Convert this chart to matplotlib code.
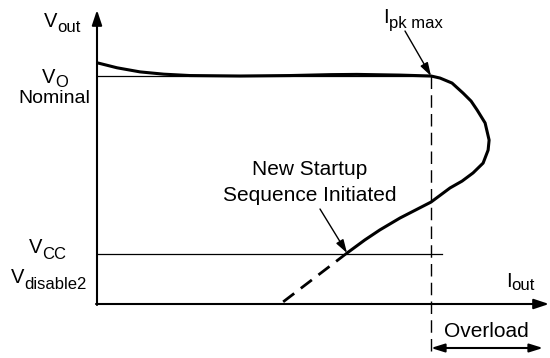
import matplotlib
matplotlib.use("Agg")
import matplotlib.pyplot as plt
import numpy as np

plt.rcParams['font.family'] = ['Liberation Sans', 'DejaVu Sans']

# Normalized units: Iout = 1 at Ipk max, Vout = 1 at VO nominal
curve_i = [0.003, 0.06, 0.129, 0.20, 0.278, 0.428, 0.578, 0.70, 0.778, 0.907, 1.0,
           1.027, 1.063, 1.096, 1.120, 1.138, 1.162, 1.174, 1.171, 1.156, 1.126,
           1.093, 1.057, 1.0, 0.907, 0.847, 0.802, 0.749]
curve_v = [1.057, 1.036, 1.018, 1.008, 1.002, 1.000, 1.002, 1.006, 1.007, 1.004, 1.0,
           0.991, 0.969, 0.925, 0.890, 0.851, 0.794, 0.719, 0.675, 0.618, 0.575,
           0.539, 0.509, 0.447, 0.377, 0.325, 0.281, 0.224]
dash_i = [0.749, 0.557]
dash_v = [0.224, 0.009]
v_nominal = 1.0
v_cc = 0.219
i_pk = 1.0
vcc_line_end = 1.033
vo_line_end = 1.0


def P(xp, yp):
    return ((xp - 97) / 334.0, (304 - yp) / 228.0)


fig = plt.figure(figsize=(5.5, 3.58), dpi=100)
ax = fig.add_axes([0, 0, 1, 1])
x0, _ = P(0, 0)
x1, _ = P(550, 0)
_, y0 = P(0, 358)
_, y1 = P(0, 0)
ax.set_xlim(x0, x1)
ax.set_ylim(y0, y1)
ax.axis('off')
renderer = fig.canvas.get_renderer()


def subtext(xp, yp, main, sub, fs=14.5, sfs=12, drop=6):
    t = ax.text(*P(xp, yp), main, fontsize=fs, ha='left', va='baseline')
    bb = t.get_window_extent(renderer=renderer)
    # bb in display pixels (origin bottom-left)
    xd = bb.x1
    xs, _ = ax.transData.inverted().transform((xd, 0))
    _, ys = P(0, yp + drop)
    ax.text(xs, ys, sub, fontsize=sfs, ha='left', va='baseline')


# axes arrows
ax.annotate('', xy=P(97, 10), xytext=P(97, 305),
            arrowprops=dict(arrowstyle='-|>,head_length=0.9,head_width=0.3', color='black', lw=1.5,
                            shrinkA=0, shrinkB=0))
ax.annotate('', xy=P(549, 304), xytext=P(96, 304),
            arrowprops=dict(arrowstyle='-|>,head_length=0.9,head_width=0.3', color='black', lw=1.5,
                            shrinkA=0, shrinkB=0))

# reference lines
ax.plot([0, vo_line_end], [v_nominal, v_nominal], color='black', lw=0.9)
ax.plot([0, vcc_line_end], [v_cc, v_cc], color='black', lw=0.9)
_, ybot = P(0, 356)
ax.plot([i_pk, i_pk], [v_nominal, ybot], color='black', lw=1.0, dashes=(9, 4.5))

# curve
ax.plot(curve_i, curve_v, color='black', lw=2.2, solid_capstyle='round', solid_joinstyle='round')
ax.plot(dash_i, dash_v, color='black', lw=2.0, dashes=(5, 3))

subtext(44, 27, 'V', 'out', drop=5)
subtext(42, 83, 'V', 'O', drop=4)
ax.text(*P(90, 103), 'Nominal', fontsize=14, ha='right', va='baseline')
subtext(29, 253, 'V', 'CC', drop=6)
subtext(11, 283, 'V', 'disable2', drop=6)
subtext(383, 23, 'I', 'pk max', fs=14.5, sfs=12, drop=5)
subtext(506, 287, 'I', 'out', fs=14.5, sfs=12, drop=3)
ax.text(*P(310, 175), 'New Startup', fontsize=15, ha='center', va='baseline')
ax.text(*P(310, 201), 'Sequence Initiated', fontsize=15, ha='center', va='baseline')
ax.text(*P(486, 337), 'Overload', fontsize=15, ha='center', va='baseline')

# annotation arrows
ax.annotate('', xy=P(431, 76), xytext=P(405, 31),
            arrowprops=dict(arrowstyle='-|>,head_length=0.8,head_width=0.25', color='black', lw=1.0,
                            shrinkA=0, shrinkB=0))
ax.annotate('', xy=P(347, 253), xytext=P(320, 209),
            arrowprops=dict(arrowstyle='-|>,head_length=0.8,head_width=0.25', color='black', lw=1.0,
                            shrinkA=0, shrinkB=0))
ax.annotate('', xy=P(543, 348), xytext=P(431, 348),
            arrowprops=dict(arrowstyle='<|-|>,head_length=0.8,head_width=0.25', color='black', lw=1.5,
                            shrinkA=0, shrinkB=0))

fig.savefig('out.png', dpi=100)
